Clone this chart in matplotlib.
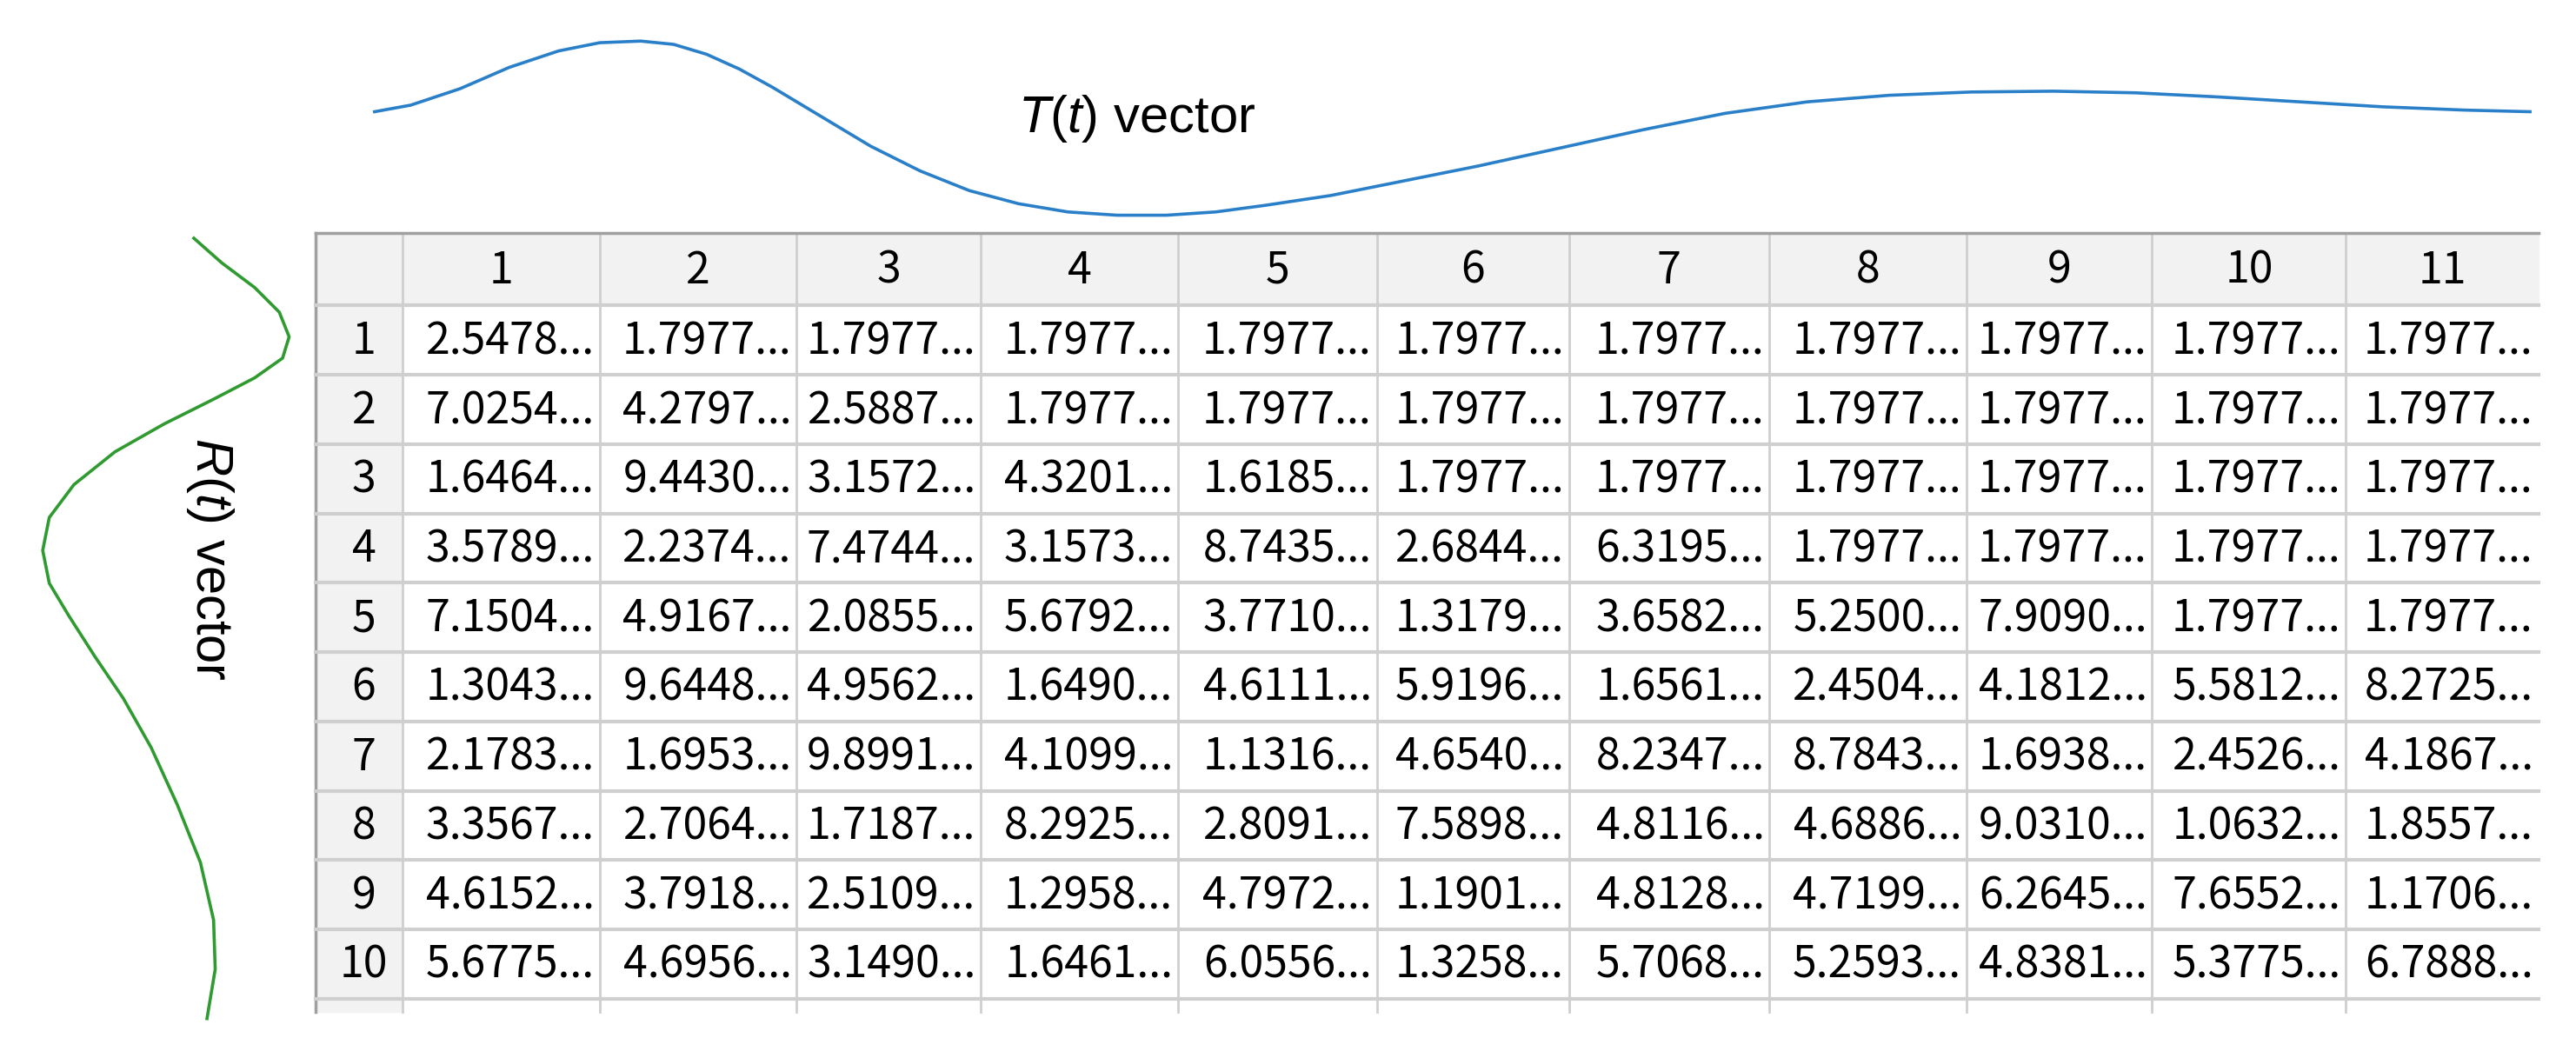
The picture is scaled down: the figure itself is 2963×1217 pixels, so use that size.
import matplotlib
matplotlib.use("Agg")
import matplotlib.pyplot as plt
from matplotlib.patches import Rectangle

plt.rcParams['font.family'] = ['Noto Sans CJK SC', 'DejaVu Sans']
plt.rcParams['mathtext.fontset'] = 'custom'
plt.rcParams['mathtext.rm'] = 'Liberation Sans'
plt.rcParams['mathtext.it'] = 'Liberation Sans:italic'

# table contents (truncated display strings)
col_labels = ["1", "2", "3", "4", "5", "6", "7", "8", "9", "10", "11"]
row_labels = ["1", "2", "3", "4", "5", "6", "7", "8", "9", "10"]
cells = [
    ["2.5478", "1.7977", "1.7977", "1.7977", "1.7977", "1.7977", "1.7977", "1.7977", "1.7977", "1.7977", "1.7977"],
    ["7.0254", "4.2797", "2.5887", "1.7977", "1.7977", "1.7977", "1.7977", "1.7977", "1.7977", "1.7977", "1.7977"],
    ["1.6464", "9.4430", "3.1572", "4.3201", "1.6185", "1.7977", "1.7977", "1.7977", "1.7977", "1.7977", "1.7977"],
    ["3.5789", "2.2374", "7.4744", "3.1573", "8.7435", "2.6844", "6.3195", "1.7977", "1.7977", "1.7977", "1.7977"],
    ["7.1504", "4.9167", "2.0855", "5.6792", "3.7710", "1.3179", "3.6582", "5.2500", "7.9090", "1.7977", "1.7977"],
    ["1.3043", "9.6448", "4.9562", "1.6490", "4.6111", "5.9196", "1.6561", "2.4504", "4.1812", "5.5812", "8.2725"],
    ["2.1783", "1.6953", "9.8991", "4.1099", "1.1316", "4.6540", "8.2347", "8.7843", "1.6938", "2.4526", "4.1867"],
    ["3.3567", "2.7064", "1.7187", "8.2925", "2.8091", "7.5898", "4.8116", "4.6886", "9.0310", "1.0632", "1.8557"],
    ["4.6152", "3.7918", "2.5109", "1.2958", "4.7972", "1.1901", "4.8128", "4.7199", "6.2645", "7.6552", "1.1706"],
    ["5.6775", "4.6956", "3.1490", "1.6461", "6.0556", "1.3258", "5.7068", "5.2593", "4.8381", "5.3775", "6.7888"],
]

# decorative curves, points (x, y in picture units)
t_x = [228, 250, 280, 310, 340, 365, 390, 410, 430, 450, 470, 500, 530, 560, 590, 620, 650, 680, 710,
       740, 770, 810, 850, 900, 950, 1000, 1050, 1100, 1150, 1200, 1250, 1300, 1350, 1400, 1450, 1500, 1540]
t_y = [68, 64, 54, 41, 31, 26, 25, 27, 33, 42, 53, 71, 89, 104, 116, 124, 129, 131, 131,
       129, 125, 119, 111, 101, 90, 79, 69, 62, 58, 56, 55.5, 56.5, 59, 62, 65, 67, 68]
r_x = [118, 135, 155, 170, 176, 172, 155, 130, 100, 70, 45, 30, 26, 30, 42, 58, 75, 92, 108, 122, 130, 131, 126]
r_y = [145, 160, 175, 190, 205, 218, 230, 243, 258, 275, 295, 315, 335, 355, 375, 400, 425, 455, 490, 525, 560, 590, 620]

# column edges in picture units
col_edges = [192, 245, 365, 485, 597, 717, 838, 955, 1077, 1197, 1310, 1428, 1545]
top, header_h, row_h = 142, 44, 42.2

fig = plt.figure(figsize=(29.63, 12.17), dpi=100)
ax = fig.add_axes([0, 0, 1, 1])
ax.set_xlim(0, 1568)
ax.set_ylim(644, 0)
ax.axis("off")

ax.plot(t_x, t_y, color="#2a7fc9", lw=2.6, solid_joinstyle="round")
ax.plot(r_x, r_y, color="#2f9a2f", lw=2.6, solid_joinstyle="round")
ax.text(692, 72, "$T(t)$ vector", fontsize=43, ha="center", va="center", family="Liberation Sans")
ax.text(128, 340, "$R(t)$ vector", fontsize=43, ha="center", va="center", rotation=-90,
        family="Liberation Sans")

grid = "#cfcfcf"
bottom = 616
right = 1545
ax.add_patch(Rectangle((col_edges[0], top), right - col_edges[0], header_h, color="#f2f2f2", zorder=0))
ax.add_patch(Rectangle((col_edges[0], top), col_edges[1] - col_edges[0], bottom - top, color="#f2f2f2", zorder=0))
for x in col_edges[1:-1]:
    ax.plot([x, x], [top, bottom], color=grid, lw=2)
ax.plot([col_edges[0], col_edges[0]], [top, bottom], color="#a0a0a0", lw=2.5)
ax.plot([col_edges[0], right], [top, top], color="#a0a0a0", lw=2.5)
ys = [top + header_h + i * row_h for i in range(len(row_labels) + 1)]
for y in ys:
    ax.plot([col_edges[0], right], [y, y], color=grid, lw=3)

fs = 36
for j, lab in enumerate(col_labels):
    ax.text((col_edges[j + 1] + col_edges[j + 2]) / 2, top + header_h / 2 + 1, lab,
            fontsize=fs, ha="center", va="center")
for i, lab in enumerate(row_labels):
    yc = ys[i] + row_h / 2 + 1
    ax.text((col_edges[0] + col_edges[1]) / 2 + 3, yc, lab, fontsize=fs, ha="center", va="center")
    for j, val in enumerate(cells[i]):
        ax.text(col_edges[j + 2] - 3, yc, val + "...", fontsize=fs, ha="right", va="center")

fig.savefig("out.png", dpi=100)
